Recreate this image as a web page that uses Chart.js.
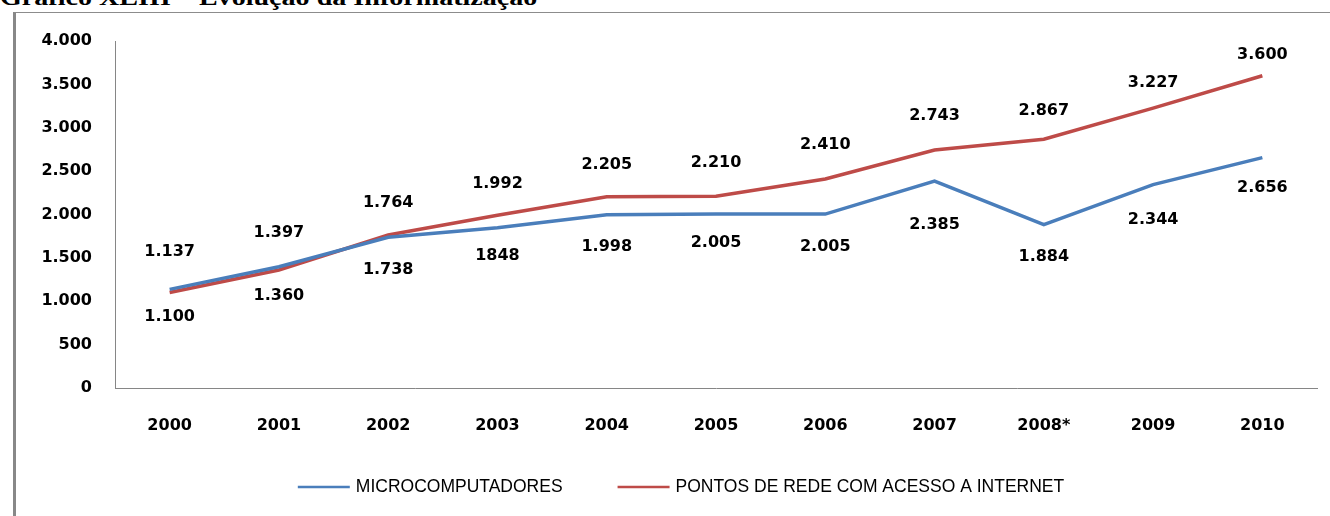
<!DOCTYPE html>
<html lang="pt-BR">
<head>
<meta charset="utf-8">
<title>Evolução da Informatização</title>
<script src="https://cdn.jsdelivr.net/npm/chart.js@4.4.1/dist/chart.umd.min.js"></script>
<style>
  html, body { margin: 0; padding: 0; background: #fff; overflow: hidden; }
  #titulo {
    position: absolute; left: 0; top: -15px;
    font: bold 24px "Liberation Serif", "Times New Roman", serif;
    line-height: 24px; white-space: nowrap; color: #000;
    transform-origin: 0 0; transform: scaleX(1.17);
  }
  #quadro {
    position: absolute; left: 13px; top: 12px; right: 0; bottom: 0;
    border-left: 3px solid #888; border-top: 1px solid #8c8c8c;
  }
  #area { position: absolute; left: 0; top: 0; width: 1330px; height: 516px; }
</style>
</head>
<body>
<div id="titulo">Gráfico XLIII – Evolução da Informatização</div>
<div id="quadro"></div>
<div id="area"><canvas id="grafico"></canvas></div>

<script>
// dados
const anos = ['2000', '2001', '2002', '2003', '2004', '2005', '2006', '2007', '2008*', '2009', '2010'];
const microcomputadores = [1137, 1397, 1738, 1848, 1998, 2005, 2005, 2385, 1884, 2344, 2656];
const pontosDeRede = [1100, 1360, 1764, 1992, 2205, 2210, 2410, 2743, 2867, 3227, 3600];
const eixoY = [0, 500, 1000, 1500, 2000, 2500, 3000, 3500, 4000];

// distancia vertical dos rotulos em relacao ao ponto (negativo = acima)
const deslocMicro = [-38, -34, 33, 28, 32, 29, 33, 44, 32, 35, 30];
const deslocPontos = [24, 26, -32, -31, -32, -33, -34, -34, -28, -25, -21];

function milhar(v) {
    return String(v).replace(/\B(?=(\d{3})+(?!\d))/g, '.');
}

// o valor de 2003 aparece sem separador no rotulo
const rotulosMicro = microcomputadores.map((v, i) => i === 3 ? String(v) : milhar(v));
const rotulosPontos = pontosDeRede.map(v => milhar(v));

const AZUL = '#4a7ebb';
const VERMELHO = '#be4b48';
const FONTE = '"DejaVu Sans", sans-serif';

Chart.defaults.font.family = FONTE;
Chart.defaults.font.size = 16;
Chart.defaults.font.weight = 'bold';
Chart.defaults.color = '#000';

// rotulos de valor ao lado de cada ponto
const rotulos = {
    id: 'rotulos',
    afterDatasetsDraw(chart) {
        const ctx = chart.ctx;
        ctx.save();
        ctx.font = 'bold 16px ' + FONTE;
        ctx.fillStyle = '#000';
        ctx.textAlign = 'center';
        ctx.textBaseline = 'middle';
        chart.data.datasets.forEach((ds, i) => {
            chart.getDatasetMeta(i).data.forEach((pt, j) => {
                ctx.fillText(ds.rotulos[j], pt.x, pt.y + ds.desloc[j]);
            });
        });
        ctx.restore();
    }
};

// legenda embaixo, linha + texto
const legenda = {
    id: 'legenda',
    afterDraw(chart) {
        const ctx = chart.ctx;
        ctx.save();
        ctx.font = '17.5px "Liberation Sans", Arial, sans-serif';
        ctx.textBaseline = 'middle';
        const linha = 52, vao = 6, entre = 55, centro = 681, y = 487;
        const itens = chart.data.datasets.map(ds => ({
            texto: ds.label, cor: ds.borderColor, w: ctx.measureText(ds.label).width
        }));
        const total = itens.reduce((s, it) => s + linha + vao + it.w, 0) + entre * (itens.length - 1);
        let x = centro - total / 2;
        itens.forEach(it => {
            ctx.strokeStyle = it.cor;
            ctx.lineWidth = 2.5;
            ctx.beginPath();
            ctx.moveTo(x, y);
            ctx.lineTo(x + linha, y);
            ctx.stroke();
            x += linha + vao;
            ctx.fillStyle = '#000';
            ctx.fillText(it.texto, x, y);
            x += it.w + entre;
        });
        ctx.restore();
    }
};

new Chart(document.getElementById('grafico'), {
    type: 'line',
    data: {
        labels: anos,
        datasets: [{
            label: 'MICROCOMPUTADORES',
            data: microcomputadores,
            rotulos: rotulosMicro,
            desloc: deslocMicro,
            borderColor: AZUL,
            borderWidth: 3.5,
            pointRadius: 0,
            tension: 0
        }, {
            label: 'PONTOS DE REDE COM ACESSO A INTERNET',
            data: pontosDeRede,
            rotulos: rotulosPontos,
            desloc: deslocPontos,
            borderColor: VERMELHO,
            borderWidth: 3.5,
            pointRadius: 0,
            tension: 0
        }]
    },
    options: {
        responsive: true,
        maintainAspectRatio: false,
        animation: false,
        layout: {
            padding: { top: 41, right: 13, bottom: 68, left: 0 }
        },
        plugins: {
            legend: { display: false },
            tooltip: { enabled: false }
        },
        scales: {
            x: {
                offset: true,
                grid: { display: true, drawOnChartArea: false, drawTicks: false },
                border: { display: true, color: '#868686', width: 1 },
                ticks: { padding: 28, maxRotation: 0, autoSkip: false },
                afterFit(scale) { scale.height = 60; }
            },
            y: {
                min: eixoY[0],
                max: eixoY[eixoY.length - 1],
                grid: { display: true, drawOnChartArea: false, drawTicks: false },
                border: { display: true, color: '#868686', width: 1 },
                ticks: {
                    stepSize: eixoY[1] - eixoY[0],
                    padding: 23,
                    callback: v => milhar(v)
                },
                afterFit(scale) { scale.width = 115; }
            }
        }
    },
    plugins: [rotulos, legenda]
});
</script>
</body>
</html>
